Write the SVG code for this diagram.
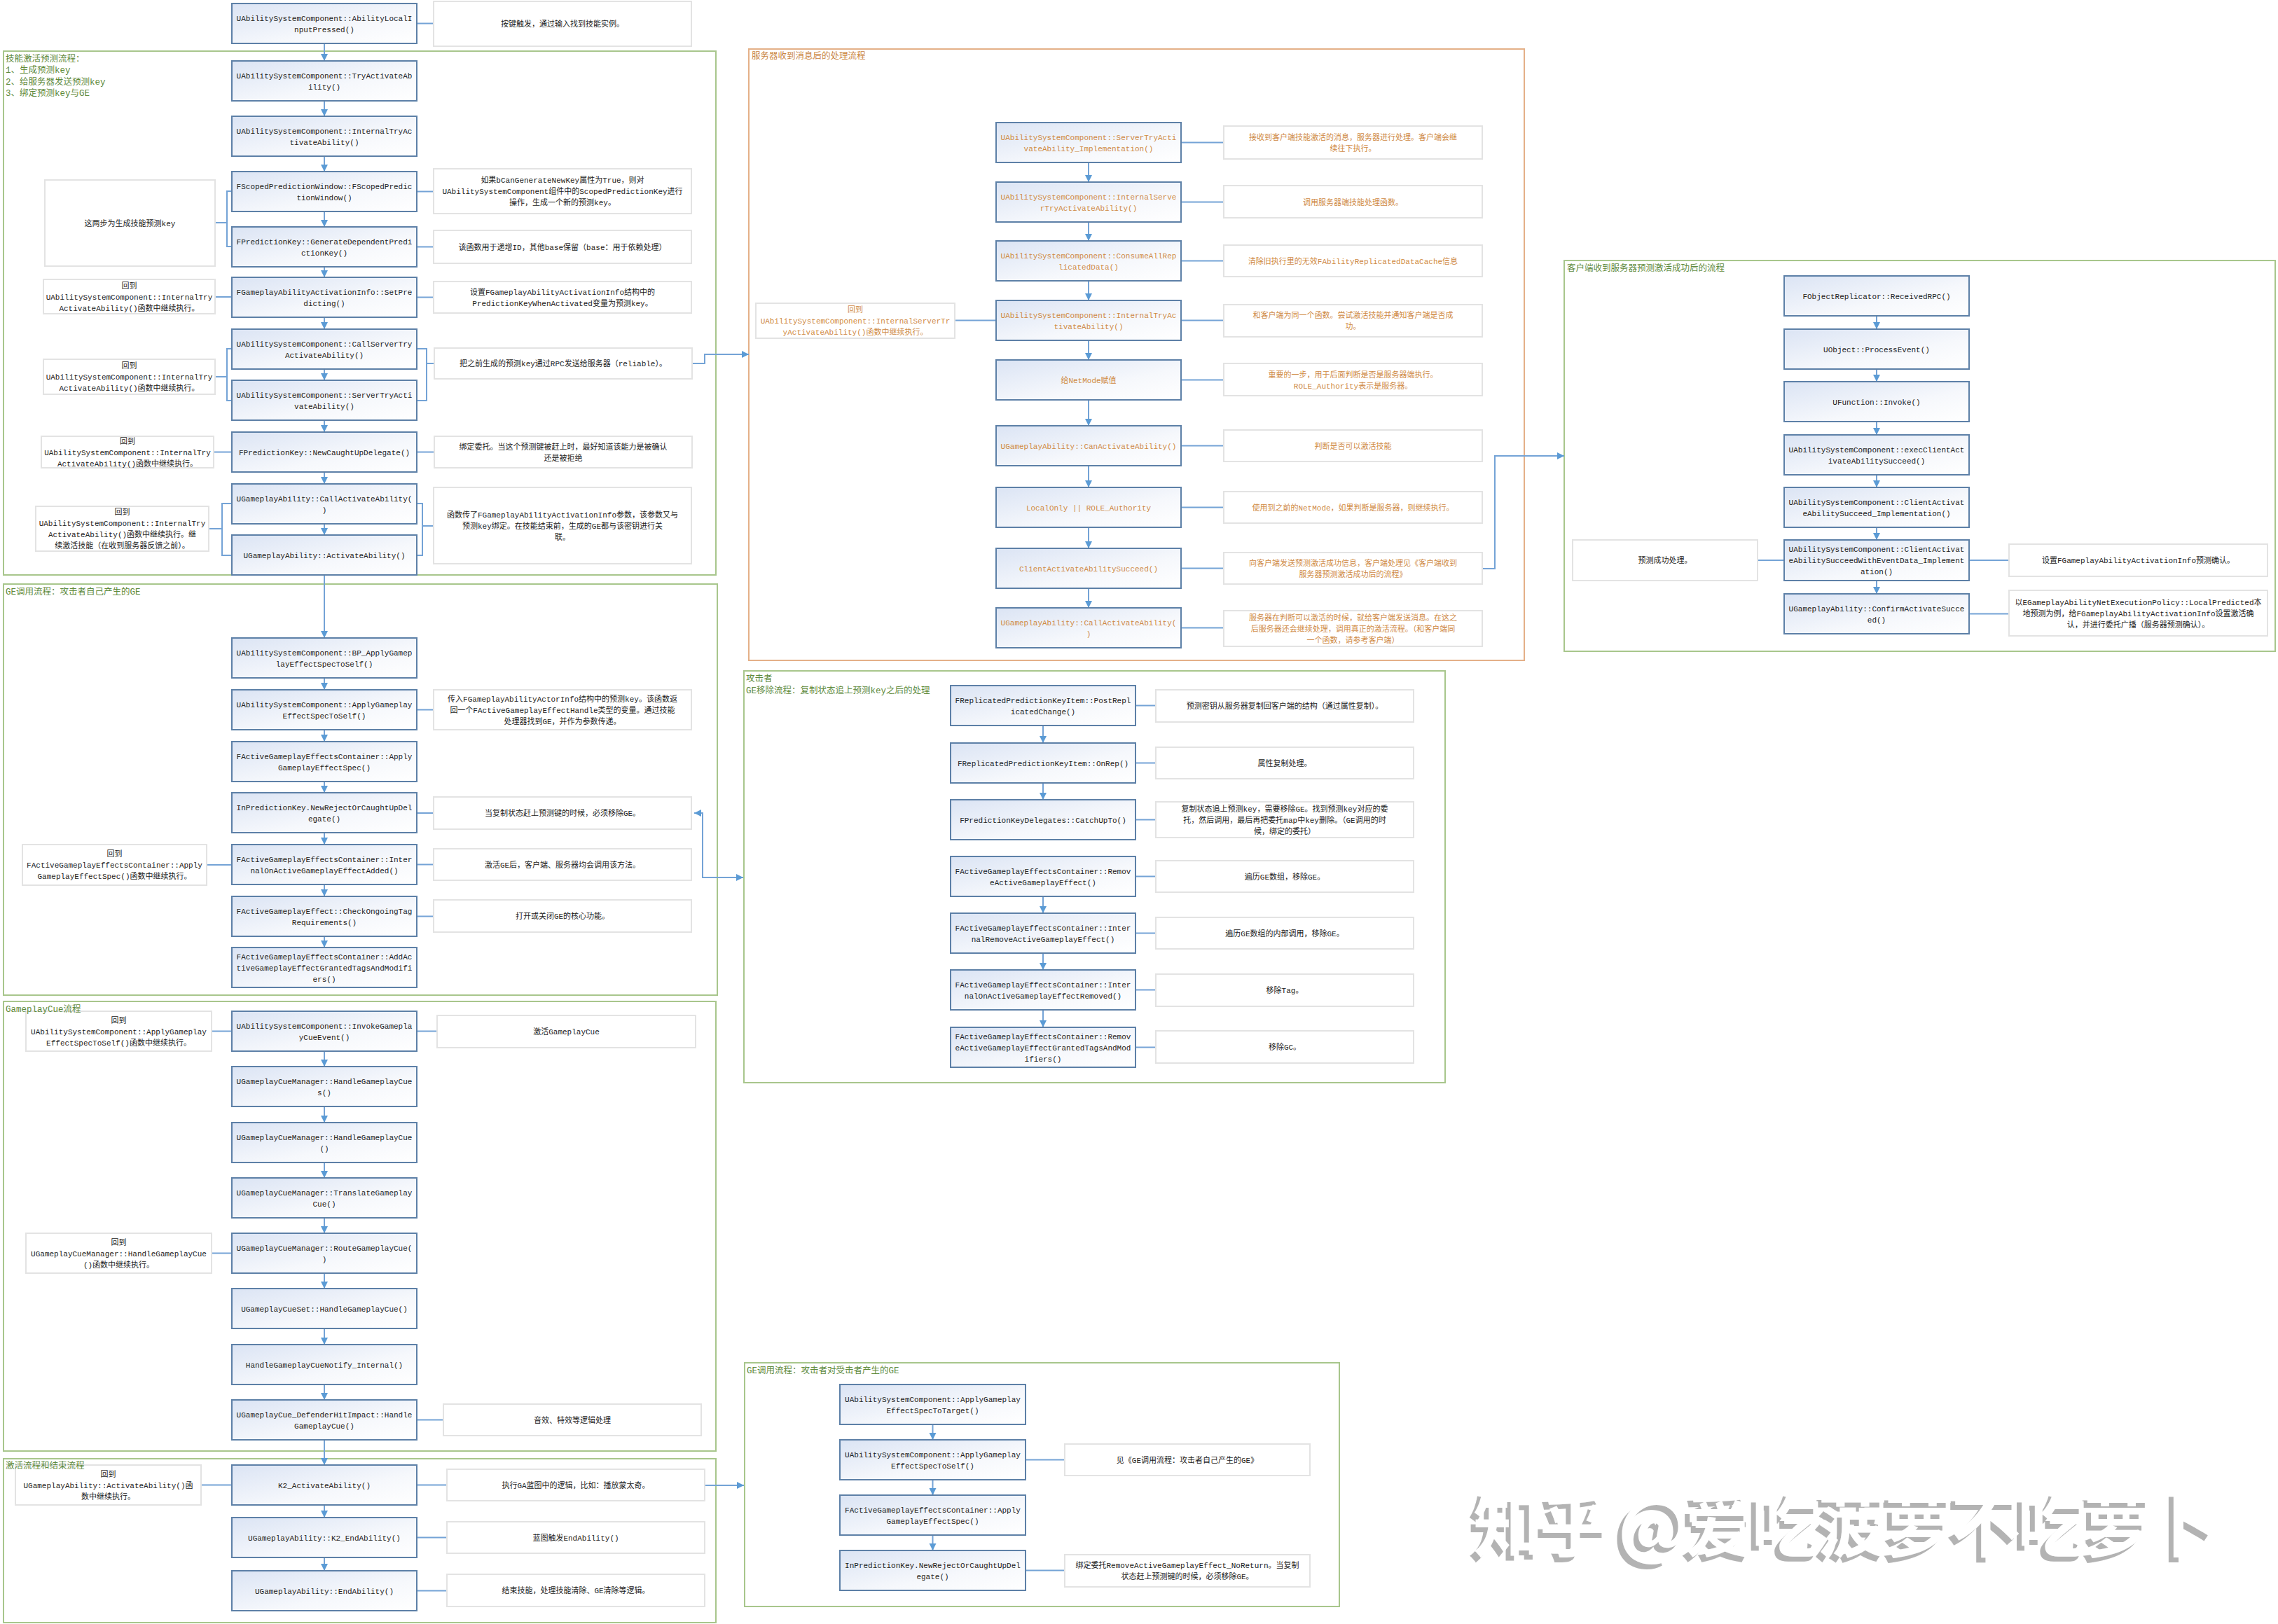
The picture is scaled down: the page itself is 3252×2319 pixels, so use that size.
<svg xmlns="http://www.w3.org/2000/svg" width="3252" height="2319" viewBox="0 0 3252 2319">
<style>
.bg{fill:#ffffff}
.sec{fill:none;stroke:#a8c68c;stroke-width:2}
.secS{fill:none;stroke:#e4b088;stroke-width:2}
.box{fill:url(#bx);stroke:#5d80a7;stroke-width:2}
.note{fill:#ffffff;stroke:#e3e3e3;stroke-width:2}
.t{font-family:"Liberation Mono","Noto Sans CJK SC",monospace;font-size:11px;fill:#222222;text-anchor:middle}
.o{fill:#cf8a45}
.ttl{font-family:"Liberation Mono","Noto Sans CJK SC",monospace;font-size:12.5px;fill:#5e8a3c}
.ttlS{fill:#c98440}
.c{fill:none;stroke:#74a3d6;stroke-width:2}
.a{marker-end:url(#ar)}
.wm{font-family:"Noto Sans CJK SC",sans-serif;font-size:100px;font-weight:bold}
</style>
<defs>
<linearGradient id="bx" x1="0" y1="0" x2="1" y2="1">
<stop offset="0" stop-color="#dbe4f4"/>
<stop offset="0.6" stop-color="#f6f8fc"/>
<stop offset="1" stop-color="#ffffff"/>
</linearGradient>
<marker id="ar" markerUnits="userSpaceOnUse" markerWidth="11" markerHeight="11" refX="10" refY="5" orient="auto-start-reverse">
<path d="M0,0 L10,5 L0,10 z" fill="#5b9bd5"/>
</marker>
<filter id="wmsh" x="-5%" y="-20%" width="110%" height="140%">
<feOffset in="SourceAlpha" dx="-7" dy="7" result="off"/>
<feFlood flood-color="#b3b3b3" result="fl"/>
<feComposite in="fl" in2="off" operator="in" result="sh"/>
<feMerge><feMergeNode in="sh"/><feMergeNode in="SourceGraphic"/></feMerge>
</filter>
</defs>
<rect class="bg" x="0" y="0" width="3252" height="2319"/>

<g id="sections">
<rect class="sec" x="5" y="73" width="1017" height="748"/>
<rect class="sec" x="5" y="834" width="1019" height="587"/>
<rect class="sec" x="5" y="1430" width="1017" height="642"/>
<rect class="sec" x="5" y="2083" width="1017" height="234"/>
<rect class="secS" x="1069" y="70" width="1107" height="873"/>
<rect class="sec" x="1062" y="958" width="1001" height="588"/>
<rect class="sec" x="1063" y="1946" width="849" height="348"/>
<rect class="sec" x="2233" y="372" width="1015" height="558"/>
</g>

<g id="connectors">
<path class="c a" d="M463,62 V87"/>
<path class="c a" d="M463,144 V166"/>
<path class="c a" d="M463,223 V245"/>
<path class="c a" d="M463,302 V324"/>
<path class="c a" d="M463,381 V396"/>
<path class="c a" d="M463,453 V470"/>
<path class="c a" d="M463,527 V543"/>
<path class="c a" d="M463,600 V617"/>
<path class="c a" d="M463,674 V691"/>
<path class="c a" d="M463,748 V764"/>
<path class="c a" d="M463,821 V911"/>
<path class="c" d="M595,33.5 H619"/>
<path class="c" d="M595,273.5 H619"/>
<path class="c" d="M595,352.5 H619"/>
<path class="c" d="M307,318 H324 M331,273 H324 V352 H331"/>
<path class="c" d="M595,424.5 H619"/>
<path class="c" d="M307,424 H331"/>
<path class="c" d="M331,498 H324 V572 H331 M307,538 H324"/>
<path class="c" d="M595,498 H609 V572 H595 M609,519 H620"/>
<path class="c a" d="M988,519 H1006 V506 H1069"/>
<path class="c" d="M305,645.5 H331"/>
<path class="c" d="M595,645.5 H620"/>
<path class="c" d="M331,719 H317 V793 H331 M298,755 H317"/>
<path class="c" d="M595,719 H603 V793 H595 M603,751 H619"/>

<path class="c a" d="M463,968 V985"/>
<path class="c a" d="M463,1042 V1059"/>
<path class="c a" d="M463,1116 V1132"/>
<path class="c a" d="M463,1189 V1206"/>
<path class="c a" d="M463,1263 V1280"/>
<path class="c a" d="M463,1337 V1353"/>
<path class="c" d="M595,1013.5 H619"/>
<path class="c" d="M595,1161 H619"/>
<path class="c" d="M595,1234.5 H619"/>
<path class="c" d="M295,1235 H331"/>
<path class="c" d="M595,1308.5 H619"/>
<path class="c a" d="M991,1161 H1003 V1253 H1061" marker-start="url(#ar)"/>

<path class="c a" d="M463,1501 V1523"/>
<path class="c a" d="M463,1580 V1603"/>
<path class="c a" d="M463,1660 V1682"/>
<path class="c a" d="M463,1739 V1761"/>
<path class="c a" d="M463,1818 V1840"/>
<path class="c a" d="M463,1897 V1920"/>
<path class="c a" d="M463,1977 V1999"/>
<path class="c a" d="M463,2056 V2092"/>
<path class="c" d="M302,1472.5 H331"/>
<path class="c" d="M595,1472.5 H624"/>
<path class="c" d="M302,1789.5 H331"/>
<path class="c" d="M595,2027.5 H633"/>

<path class="c a" d="M463,2149 V2167"/>
<path class="c a" d="M463,2224 V2243"/>
<path class="c" d="M287,2120.5 H331"/>
<path class="c" d="M595,2120.5 H638"/>
<path class="c a" d="M1006,2121 H1062"/>
<path class="c" d="M595,2195.5 H638"/>
<path class="c" d="M595,2271.5 H638"/>

<path class="c a" d="M1554,232 V260"/>
<path class="c a" d="M1554,317 V344"/>
<path class="c a" d="M1554,401 V429"/>
<path class="c a" d="M1554,486 V514"/>
<path class="c a" d="M1554,571 V608"/>
<path class="c a" d="M1554,665 V696"/>
<path class="c a" d="M1554,753 V783"/>
<path class="c a" d="M1554,840 V868"/>
<path class="c" d="M1686,203.5 H1747"/>
<path class="c" d="M1686,288.5 H1747"/>
<path class="c" d="M1686,372.5 H1747"/>
<path class="c" d="M1686,457.5 H1747"/>
<path class="c" d="M1363,457.5 H1422"/>
<path class="c" d="M1686,542.5 H1747"/>
<path class="c" d="M1686,636.5 H1747"/>
<path class="c" d="M1686,724.5 H1747"/>
<path class="c" d="M1686,811.5 H1747"/>
<path class="c" d="M1686,896.5 H1747"/>
<path class="c a" d="M2116,812 H2134 V651 H2233"/>

<path class="c a" d="M1489,1036 V1061"/>
<path class="c a" d="M1489,1118 V1142"/>
<path class="c a" d="M1489,1280 V1304"/>
<path class="c a" d="M1489,1361 V1385"/>
<path class="c a" d="M1489,1442 V1467"/>
<path class="c" d="M1621,1007.5 H1650"/>
<path class="c" d="M1621,1089.5 H1650"/>
<path class="c" d="M1621,1170.5 H1650"/>
<path class="c" d="M1621,1251.5 H1650"/>
<path class="c" d="M1621,1332.5 H1650"/>
<path class="c" d="M1621,1413.5 H1650"/>
<path class="c" d="M1621,1495.5 H1650"/>

<path class="c a" d="M1331.5,2034 V2056"/>
<path class="c a" d="M1331.5,2113 V2135"/>
<path class="c a" d="M1331.5,2192 V2214"/>
<path class="c" d="M1464,2084.5 H1520"/>
<path class="c" d="M1464,2242.5 H1520"/>

<path class="c a" d="M2679,451 V470"/>
<path class="c a" d="M2679,527 V545"/>
<path class="c a" d="M2679,602 V621"/>
<path class="c a" d="M2679,678 V696"/>
<path class="c a" d="M2679,753 V771"/>
<path class="c a" d="M2679,829 V848"/>
<path class="c" d="M2509,800 H2547"/>
<path class="c" d="M2811,800 H2868"/>
<path class="c" d="M2811,876.5 H2868"/>
</g>

<g id="n-b0"><rect class="box" x="331" y="5" width="264" height="57"/><text class="t"><tspan x="463" y="29.5">UAbilitySystemComponent::AbilityLocalI</tspan><tspan x="463" y="45.5">nputPressed()</tspan></text></g>
<g id="n-b0-note"><rect class="note" x="619" y="2" width="368" height="64"/><text class="t" x="803" y="38">按键触发，通过输入找到技能实例。</text></g>
<g id="n-b1"><rect class="box" x="331" y="87" width="264" height="57"/><text class="t"><tspan x="463" y="111.5">UAbilitySystemComponent::TryActivateAb</tspan><tspan x="463" y="127.5">ility()</tspan></text></g>
<g id="n-b2"><rect class="box" x="331" y="166" width="264" height="57"/><text class="t"><tspan x="463" y="190.5">UAbilitySystemComponent::InternalTryAc</tspan><tspan x="463" y="206.5">tivateAbility()</tspan></text></g>
<g id="n-b3"><rect class="box" x="331" y="245" width="264" height="57"/><text class="t"><tspan x="463" y="269.5">FScopedPredictionWindow::FScopedPredic</tspan><tspan x="463" y="285.5">tionWindow()</tspan></text></g>
<g id="n-b3-note"><rect class="note" x="619" y="241" width="368" height="64"/><text class="t"><tspan x="803" y="261">如果bCanGenerateNewKey属性为True，则对</tspan><tspan x="803" y="277">UAbilitySystemComponent组件中的ScopedPredictionKey进行</tspan><tspan x="803" y="293">操作，生成一个新的预测key。</tspan></text></g>
<g id="n-b4"><rect class="box" x="331" y="324" width="264" height="57"/><text class="t"><tspan x="463" y="348.5">FPredictionKey::GenerateDependentPredi</tspan><tspan x="463" y="364.5">ctionKey()</tspan></text></g>
<g id="n-b4-note"><rect class="note" x="619" y="329" width="368" height="47"/><text class="t" x="803" y="356.5">该函数用于递增ID，其他base保留（base：用于依赖处理）</text></g>
<g id="n-b34-left"><rect class="note" x="64" y="257" width="243" height="123"/><text class="t" x="185.5" y="322.5">这两步为生成技能预测key</text></g>
<g id="n-b5"><rect class="box" x="331" y="396" width="264" height="57"/><text class="t"><tspan x="463" y="420.5">FGameplayAbilityActivationInfo::SetPre</tspan><tspan x="463" y="436.5">dicting()</tspan></text></g>
<g id="n-b5-note"><rect class="note" x="619" y="402" width="368" height="45"/><text class="t"><tspan x="803" y="420.5">设置FGameplayAbilityActivationInfo结构中的</tspan><tspan x="803" y="436.5">PredictionKeyWhenActivated变量为预测key。</tspan></text></g>
<g id="n-b5-left"><rect class="note" x="62" y="399" width="245" height="49"/><text class="t"><tspan x="184.5" y="411.5">回到</tspan><tspan x="184.5" y="427.5">UAbilitySystemComponent::InternalTry</tspan><tspan x="184.5" y="443.5">ActivateAbility()函数中继续执行。</tspan></text></g>
<g id="n-b6"><rect class="box" x="331" y="470" width="264" height="57"/><text class="t"><tspan x="463" y="494.5">UAbilitySystemComponent::CallServerTry</tspan><tspan x="463" y="510.5">ActivateAbility()</tspan></text></g>
<g id="n-b7"><rect class="box" x="331" y="543" width="264" height="57"/><text class="t"><tspan x="463" y="567.5">UAbilitySystemComponent::ServerTryActi</tspan><tspan x="463" y="583.5">vateAbility()</tspan></text></g>
<g id="n-b67-left"><rect class="note" x="62" y="513" width="245" height="50"/><text class="t"><tspan x="184.5" y="526">回到</tspan><tspan x="184.5" y="542">UAbilitySystemComponent::InternalTry</tspan><tspan x="184.5" y="558">ActivateAbility()函数中继续执行。</tspan></text></g>
<g id="n-b67-note"><rect class="note" x="620" y="497" width="368" height="44"/><text class="t" x="804" y="523">把之前生成的预测key通过RPC发送给服务器（reliable）。</text></g>
<g id="n-b8"><rect class="box" x="331" y="617" width="264" height="57"/><text class="t" x="463" y="649.5">FPredictionKey::NewCaughtUpDelegate()</text></g>
<g id="n-b8-left"><rect class="note" x="59" y="623" width="246" height="45"/><text class="t"><tspan x="182" y="633.5">回到</tspan><tspan x="182" y="649.5">UAbilitySystemComponent::InternalTry</tspan><tspan x="182" y="665.5">ActivateAbility()函数中继续执行。</tspan></text></g>
<g id="n-b8-note"><rect class="note" x="620" y="623" width="368" height="45"/><text class="t"><tspan x="804" y="641.5">绑定委托。当这个预测键被赶上时，最好知道该能力是被确认</tspan><tspan x="804" y="657.5">还是被拒绝</tspan></text></g>
<g id="n-b9"><rect class="box" x="331" y="691" width="264" height="57"/><text class="t"><tspan x="463" y="715.5">UGameplayAbility::CallActivateAbility(</tspan><tspan x="463" y="731.5">)</tspan></text></g>
<g id="n-b10"><rect class="box" x="331" y="764" width="264" height="57"/><text class="t" x="463" y="796.5">UGameplayAbility::ActivateAbility()</text></g>
<g id="n-b910-left"><rect class="note" x="51" y="723" width="247" height="64"/><text class="t"><tspan x="174.5" y="735">回到</tspan><tspan x="174.5" y="751">UAbilitySystemComponent::InternalTry</tspan><tspan x="174.5" y="767">ActivateAbility()函数中继续执行。继</tspan><tspan x="174.5" y="783">续激活技能（在收到服务器反馈之前）。</tspan></text></g>
<g id="n-b910-note"><rect class="note" x="619" y="696" width="368" height="109"/><text class="t"><tspan x="803" y="738.5">函数传了FGameplayAbilityActivationInfo参数，该参数又与</tspan><tspan x="803" y="754.5">预测key绑定。在技能结束前，生成的GE都与该密钥进行关</tspan><tspan x="803" y="770.5">联。</tspan></text></g>

<g id="n-g1"><rect class="box" x="331" y="911" width="264" height="57"/><text class="t"><tspan x="463" y="935.5">UAbilitySystemComponent::BP_ApplyGamep</tspan><tspan x="463" y="951.5">layEffectSpecToSelf()</tspan></text></g>
<g id="n-g2"><rect class="box" x="331" y="985" width="264" height="57"/><text class="t"><tspan x="463" y="1009.5">UAbilitySystemComponent::ApplyGameplay</tspan><tspan x="463" y="1025.5">EffectSpecToSelf()</tspan></text></g>
<g id="n-g2-note"><rect class="note" x="619" y="985" width="368" height="57"/><text class="t"><tspan x="803" y="1001.5">传入FGameplayAbilityActorInfo结构中的预测key。该函数返</tspan><tspan x="803" y="1017.5">回一个FActiveGameplayEffectHandle类型的变量。通过技能</tspan><tspan x="803" y="1033.5">处理器找到GE，并作为参数传递。</tspan></text></g>
<g id="n-g3"><rect class="box" x="331" y="1059" width="264" height="57"/><text class="t"><tspan x="463" y="1083.5">FActiveGameplayEffectsContainer::Apply</tspan><tspan x="463" y="1099.5">GameplayEffectSpec()</tspan></text></g>
<g id="n-g4"><rect class="box" x="331" y="1132" width="264" height="57"/><text class="t"><tspan x="463" y="1156.5">InPredictionKey.NewRejectOrCaughtUpDel</tspan><tspan x="463" y="1172.5">egate()</tspan></text></g>
<g id="n-g4-note"><rect class="note" x="619" y="1138" width="368" height="46"/><text class="t" x="803" y="1165">当复制状态赶上预测键的时候，必须移除GE。</text></g>
<g id="n-g5"><rect class="box" x="331" y="1206" width="264" height="57"/><text class="t"><tspan x="463" y="1230.5">FActiveGameplayEffectsContainer::Inter</tspan><tspan x="463" y="1246.5">nalOnActiveGameplayEffectAdded()</tspan></text></g>
<g id="n-g5-note"><rect class="note" x="619" y="1212" width="368" height="45"/><text class="t" x="803" y="1238.5">激活GE后，客户端、服务器均会调用该方法。</text></g>
<g id="n-g5-left"><rect class="note" x="32" y="1206" width="263" height="58"/><text class="t"><tspan x="163.5" y="1223">回到</tspan><tspan x="163.5" y="1239">FActiveGameplayEffectsContainer::Apply</tspan><tspan x="163.5" y="1255">GameplayEffectSpec()函数中继续执行。</tspan></text></g>
<g id="n-g6"><rect class="box" x="331" y="1280" width="264" height="57"/><text class="t"><tspan x="463" y="1304.5">FActiveGameplayEffect::CheckOngoingTag</tspan><tspan x="463" y="1320.5">Requirements()</tspan></text></g>
<g id="n-g6-note"><rect class="note" x="619" y="1285" width="368" height="46"/><text class="t" x="803" y="1312">打开或关闭GE的核心功能。</text></g>
<g id="n-g7"><rect class="box" x="331" y="1353" width="264" height="57"/><text class="t"><tspan x="463" y="1369.5">FActiveGameplayEffectsContainer::AddAc</tspan><tspan x="463" y="1385.5">tiveGameplayEffectGrantedTagsAndModifi</tspan><tspan x="463" y="1401.5">ers()</tspan></text></g>

<g id="n-c1"><rect class="box" x="331" y="1444" width="264" height="57"/><text class="t"><tspan x="463" y="1468.5">UAbilitySystemComponent::InvokeGamepla</tspan><tspan x="463" y="1484.5">yCueEvent()</tspan></text></g>
<g id="n-c1-left"><rect class="note" x="37" y="1444" width="265" height="57"/><text class="t"><tspan x="169.5" y="1460.5">回到</tspan><tspan x="169.5" y="1476.5">UAbilitySystemComponent::ApplyGameplay</tspan><tspan x="169.5" y="1492.5">EffectSpecToSelf()函数中继续执行。</tspan></text></g>
<g id="n-c1-note"><rect class="note" x="624" y="1450" width="369" height="46"/><text class="t" x="808.5" y="1477">激活GameplayCue</text></g>
<g id="n-c2"><rect class="box" x="331" y="1523" width="264" height="57"/><text class="t"><tspan x="463" y="1547.5">UGameplayCueManager::HandleGameplayCue</tspan><tspan x="463" y="1563.5">s()</tspan></text></g>
<g id="n-c3"><rect class="box" x="331" y="1603" width="264" height="57"/><text class="t"><tspan x="463" y="1627.5">UGameplayCueManager::HandleGameplayCue</tspan><tspan x="463" y="1643.5">()</tspan></text></g>
<g id="n-c4"><rect class="box" x="331" y="1682" width="264" height="57"/><text class="t"><tspan x="463" y="1706.5">UGameplayCueManager::TranslateGameplay</tspan><tspan x="463" y="1722.5">Cue()</tspan></text></g>
<g id="n-c5"><rect class="box" x="331" y="1761" width="264" height="57"/><text class="t"><tspan x="463" y="1785.5">UGameplayCueManager::RouteGameplayCue(</tspan><tspan x="463" y="1801.5">)</tspan></text></g>
<g id="n-c5-left"><rect class="note" x="37" y="1761" width="265" height="57"/><text class="t"><tspan x="169.5" y="1777.5">回到</tspan><tspan x="169.5" y="1793.5">UGameplayCueManager::HandleGameplayCue</tspan><tspan x="169.5" y="1809.5">()函数中继续执行。</tspan></text></g>
<g id="n-c6"><rect class="box" x="331" y="1840" width="264" height="57"/><text class="t" x="463" y="1872.5">UGameplayCueSet::HandleGameplayCue()</text></g>
<g id="n-c7"><rect class="box" x="331" y="1920" width="264" height="57"/><text class="t" x="463" y="1952.5">HandleGameplayCueNotify_Internal()</text></g>
<g id="n-c8"><rect class="box" x="331" y="1999" width="264" height="57"/><text class="t"><tspan x="463" y="2023.5">UGameplayCue_DefenderHitImpact::Handle</tspan><tspan x="463" y="2039.5">GameplayCue()</tspan></text></g>
<g id="n-c8-note"><rect class="note" x="633" y="2005" width="368" height="45"/><text class="t" x="817" y="2031.5">音效、特效等逻辑处理</text></g>

<g id="n-k1"><rect class="box" x="331" y="2092" width="264" height="57"/><text class="t" x="463" y="2124.5">K2_ActivateAbility()</text></g>
<g id="n-k1-left"><rect class="note" x="22" y="2092" width="265" height="57"/><text class="t"><tspan x="154.5" y="2108.5">回到</tspan><tspan x="154.5" y="2124.5">UGameplayAbility::ActivateAbility()函</tspan><tspan x="154.5" y="2140.5">数中继续执行。</tspan></text></g>
<g id="n-k1-note"><rect class="note" x="638" y="2098" width="368" height="45"/><text class="t" x="822" y="2124.5">执行GA蓝图中的逻辑，比如：播放蒙太奇。</text></g>
<g id="n-k2"><rect class="box" x="331" y="2167" width="264" height="57"/><text class="t" x="463" y="2199.5">UGameplayAbility::K2_EndAbility()</text></g>
<g id="n-k2-note"><rect class="note" x="638" y="2173" width="368" height="45"/><text class="t" x="822" y="2199.5">蓝图触发EndAbility()</text></g>
<g id="n-k3"><rect class="box" x="331" y="2243" width="264" height="57"/><text class="t" x="463" y="2275.5">UGameplayAbility::EndAbility()</text></g>
<g id="n-k3-note"><rect class="note" x="638" y="2248" width="368" height="46"/><text class="t" x="822" y="2275">结束技能，处理技能清除、GE清除等逻辑。</text></g>

<g id="n-s1"><rect class="box" x="1422" y="175" width="264" height="57"/><text class="t o"><tspan x="1554" y="199.5">UAbilitySystemComponent::ServerTryActi</tspan><tspan x="1554" y="215.5">vateAbility_Implementation()</tspan></text></g>
<g id="n-s1-note"><rect class="note" x="1747" y="180" width="369" height="47"/><text class="t o"><tspan x="1931.5" y="199.5">接收到客户端技能激活的消息，服务器进行处理。客户端会继</tspan><tspan x="1931.5" y="215.5">续往下执行。</tspan></text></g>
<g id="n-s2"><rect class="box" x="1422" y="260" width="264" height="57"/><text class="t o"><tspan x="1554" y="284.5">UAbilitySystemComponent::InternalServe</tspan><tspan x="1554" y="300.5">rTryActivateAbility()</tspan></text></g>
<g id="n-s2-note"><rect class="note" x="1747" y="265" width="369" height="46"/><text class="t o" x="1931.5" y="292.5">调用服务器端技能处理函数。</text></g>
<g id="n-s3"><rect class="box" x="1422" y="344" width="264" height="57"/><text class="t o"><tspan x="1554" y="368.5">UAbilitySystemComponent::ConsumeAllRep</tspan><tspan x="1554" y="384.5">licatedData()</tspan></text></g>
<g id="n-s3-note"><rect class="note" x="1747" y="350" width="369" height="45"/><text class="t o" x="1931.5" y="376.5">清除旧执行里的无效FAbilityReplicatedDataCache信息</text></g>
<g id="n-s4"><rect class="box" x="1422" y="429" width="264" height="57"/><text class="t o"><tspan x="1554" y="453.5">UAbilitySystemComponent::InternalTryAc</tspan><tspan x="1554" y="469.5">tivateAbility()</tspan></text></g>
<g id="n-s4-note"><rect class="note" x="1747" y="435" width="369" height="46"/><text class="t o"><tspan x="1931.5" y="453.5">和客户端为同一个函数。尝试激活技能并通知客户端是否成</tspan><tspan x="1931.5" y="469.5">功。</tspan></text></g>
<g id="n-s4-left"><rect class="note" x="1079" y="433" width="284" height="50"/><text class="t o"><tspan x="1221" y="446">回到</tspan><tspan x="1221" y="462">UAbilitySystemComponent::InternalServerTr</tspan><tspan x="1221" y="478">yActivateAbility()函数中继续执行。</tspan></text></g>
<g id="n-s5"><rect class="box" x="1422" y="514" width="264" height="57"/><text class="t o" x="1554" y="546.5">给NetMode赋值</text></g>
<g id="n-s5-note"><rect class="note" x="1747" y="519" width="369" height="46"/><text class="t o"><tspan x="1931.5" y="538.5">重要的一步，用于后面判断是否是服务器端执行。</tspan><tspan x="1931.5" y="554.5">ROLE_Authority表示是服务器。</tspan></text></g>
<g id="n-s6"><rect class="box" x="1422" y="608" width="264" height="57"/><text class="t o" x="1554" y="640.5">UGameplayAbility::CanActivateAbility()</text></g>
<g id="n-s6-note"><rect class="note" x="1747" y="614" width="369" height="45"/><text class="t o" x="1931.5" y="640.5">判断是否可以激活技能</text></g>
<g id="n-s7"><rect class="box" x="1422" y="696" width="264" height="57"/><text class="t o" x="1554" y="728.5">LocalOnly || ROLE_Authority</text></g>
<g id="n-s7-note"><rect class="note" x="1747" y="702" width="369" height="45"/><text class="t o" x="1931.5" y="728.5">使用到之前的NetMode，如果判断是服务器，则继续执行。</text></g>
<g id="n-s8"><rect class="box" x="1422" y="783" width="264" height="57"/><text class="t o" x="1554" y="815.5">ClientActivateAbilitySucceed()</text></g>
<g id="n-s8-note"><rect class="note" x="1747" y="789" width="369" height="45"/><text class="t o"><tspan x="1931.5" y="807.5">向客户端发送预测激活成功信息，客户端处理见《客户端收到</tspan><tspan x="1931.5" y="823.5">服务器预测激活成功后的流程》</tspan></text></g>
<g id="n-s9"><rect class="box" x="1422" y="868" width="264" height="57"/><text class="t o"><tspan x="1554" y="892.5">UGameplayAbility::CallActivateAbility(</tspan><tspan x="1554" y="908.5">)</tspan></text></g>
<g id="n-s9-note"><rect class="note" x="1747" y="872" width="369" height="51"/><text class="t o"><tspan x="1931.5" y="885.5">服务器在判断可以激活的时候，就给客户端发送消息。在这之</tspan><tspan x="1931.5" y="901.5">后服务器还会继续处理，调用真正的激活流程。（和客户端同</tspan><tspan x="1931.5" y="917.5">一个函数，请参考客户端）</tspan></text></g>

<g id="n-a1"><rect class="box" x="1357" y="979" width="264" height="57"/><text class="t"><tspan x="1489" y="1003.5">FReplicatedPredictionKeyItem::PostRepl</tspan><tspan x="1489" y="1019.5">icatedChange()</tspan></text></g>
<g id="n-a1-note"><rect class="note" x="1650" y="985" width="368" height="46"/><text class="t" x="1834" y="1012">预测密钥从服务器复制回客户端的结构（通过属性复制）。</text></g>
<g id="n-a2"><rect class="box" x="1357" y="1061" width="264" height="57"/><text class="t" x="1489" y="1093.5">FReplicatedPredictionKeyItem::OnRep()</text></g>
<g id="n-a2-note"><rect class="note" x="1650" y="1067" width="368" height="45"/><text class="t" x="1834" y="1093.5">属性复制处理。</text></g>
<g id="n-a3"><rect class="box" x="1357" y="1142" width="264" height="57"/><text class="t" x="1489" y="1174.5">FPredictionKeyDelegates::CatchUpTo()</text></g>
<g id="n-a3-note"><rect class="note" x="1650" y="1145" width="368" height="51"/><text class="t"><tspan x="1834" y="1158.5">复制状态追上预测key，需要移除GE。找到预测key对应的委</tspan><tspan x="1834" y="1174.5">托，然后调用，最后再把委托map中key删除。（GE调用的时</tspan><tspan x="1834" y="1190.5">候，绑定的委托）</tspan></text></g>
<g id="n-a4"><rect class="box" x="1357" y="1223" width="264" height="57"/><text class="t"><tspan x="1489" y="1247.5">FActiveGameplayEffectsContainer::Remov</tspan><tspan x="1489" y="1263.5">eActiveGameplayEffect()</tspan></text></g>
<g id="n-a4-note"><rect class="note" x="1650" y="1229" width="368" height="45"/><text class="t" x="1834" y="1255.5">遍历GE数组，移除GE。</text></g>
<g id="n-a5"><rect class="box" x="1357" y="1304" width="264" height="57"/><text class="t"><tspan x="1489" y="1328.5">FActiveGameplayEffectsContainer::Inter</tspan><tspan x="1489" y="1344.5">nalRemoveActiveGameplayEffect()</tspan></text></g>
<g id="n-a5-note"><rect class="note" x="1650" y="1310" width="368" height="45"/><text class="t" x="1834" y="1336.5">遍历GE数组的内部调用，移除GE。</text></g>
<g id="n-a6"><rect class="box" x="1357" y="1385" width="264" height="57"/><text class="t"><tspan x="1489" y="1409.5">FActiveGameplayEffectsContainer::Inter</tspan><tspan x="1489" y="1425.5">nalOnActiveGameplayEffectRemoved()</tspan></text></g>
<g id="n-a6-note"><rect class="note" x="1650" y="1391" width="368" height="46"/><text class="t" x="1834" y="1418">移除Tag。</text></g>
<g id="n-a7"><rect class="box" x="1357" y="1467" width="264" height="57"/><text class="t"><tspan x="1489" y="1483.5">FActiveGameplayEffectsContainer::Remov</tspan><tspan x="1489" y="1499.5">eActiveGameplayEffectGrantedTagsAndMod</tspan><tspan x="1489" y="1515.5">ifiers()</tspan></text></g>
<g id="n-a7-note"><rect class="note" x="1650" y="1472" width="368" height="46"/><text class="t" x="1834" y="1499">移除GC。</text></g>

<g id="n-t1"><rect class="box" x="1199" y="1977" width="265" height="57"/><text class="t"><tspan x="1331.5" y="2001.5">UAbilitySystemComponent::ApplyGameplay</tspan><tspan x="1331.5" y="2017.5">EffectSpecToTarget()</tspan></text></g>
<g id="n-t2"><rect class="box" x="1199" y="2056" width="265" height="57"/><text class="t"><tspan x="1331.5" y="2080.5">UAbilitySystemComponent::ApplyGameplay</tspan><tspan x="1331.5" y="2096.5">EffectSpecToSelf()</tspan></text></g>
<g id="n-t2-note"><rect class="note" x="1520" y="2062" width="350" height="45"/><text class="t" x="1695" y="2088.5">见《GE调用流程：攻击者自己产生的GE》</text></g>
<g id="n-t3"><rect class="box" x="1199" y="2135" width="265" height="57"/><text class="t"><tspan x="1331.5" y="2159.5">FActiveGameplayEffectsContainer::Apply</tspan><tspan x="1331.5" y="2175.5">GameplayEffectSpec()</tspan></text></g>
<g id="n-t4"><rect class="box" x="1199" y="2214" width="265" height="57"/><text class="t"><tspan x="1331.5" y="2238.5">InPredictionKey.NewRejectOrCaughtUpDel</tspan><tspan x="1331.5" y="2254.5">egate()</tspan></text></g>
<g id="n-t4-note"><rect class="note" x="1520" y="2220" width="350" height="46"/><text class="t"><tspan x="1695" y="2239">绑定委托RemoveActiveGameplayEffect_NoReturn。当复制</tspan><tspan x="1695" y="2255">状态赶上预测键的时候，必须移除GE。</tspan></text></g>

<g id="n-r1"><rect class="box" x="2547" y="394" width="264" height="57"/><text class="t" x="2679" y="426.5">FObjectReplicator::ReceivedRPC()</text></g>
<g id="n-r2"><rect class="box" x="2547" y="470" width="264" height="57"/><text class="t" x="2679" y="502.5">UObject::ProcessEvent()</text></g>
<g id="n-r3"><rect class="box" x="2547" y="545" width="264" height="57"/><text class="t" x="2679" y="577.5">UFunction::Invoke()</text></g>
<g id="n-r4"><rect class="box" x="2547" y="621" width="264" height="57"/><text class="t"><tspan x="2679" y="645.5">UAbilitySystemComponent::execClientAct</tspan><tspan x="2679" y="661.5">ivateAbilitySucceed()</tspan></text></g>
<g id="n-r5"><rect class="box" x="2547" y="696" width="264" height="57"/><text class="t"><tspan x="2679" y="720.5">UAbilitySystemComponent::ClientActivat</tspan><tspan x="2679" y="736.5">eAbilitySucceed_Implementation()</tspan></text></g>
<g id="n-r6"><rect class="box" x="2547" y="771" width="264" height="58"/><text class="t"><tspan x="2679" y="788">UAbilitySystemComponent::ClientActivat</tspan><tspan x="2679" y="804">eAbilitySucceedWithEventData_Implement</tspan><tspan x="2679" y="820">ation()</tspan></text></g>
<g id="n-r6-left"><rect class="note" x="2245" y="771" width="264" height="58"/><text class="t" x="2377" y="804">预测成功处理。</text></g>
<g id="n-r6-note"><rect class="note" x="2868" y="777" width="369" height="46"/><text class="t" x="3052.5" y="804">设置FGameplayAbilityActivationInfo预测确认。</text></g>
<g id="n-r7"><rect class="box" x="2547" y="848" width="264" height="57"/><text class="t"><tspan x="2679" y="872.5">UGameplayAbility::ConfirmActivateSucce</tspan><tspan x="2679" y="888.5">ed()</tspan></text></g>
<g id="n-r7-note"><rect class="note" x="2868" y="843" width="369" height="65"/><text class="t"><tspan x="3052.5" y="863.5">以EGameplayAbilityNetExecutionPolicy::LocalPredicted本</tspan><tspan x="3052.5" y="879.5">地预测为例，给FGameplayAbilityActivationInfo设置激活确</tspan><tspan x="3052.5" y="895.5">认，并进行委托广播（服务器预测确认）。</tspan></text></g>

<g id="titles">
<text class="ttl"><tspan x="8" y="88">技能激活预测流程：</tspan><tspan x="8" y="104">1、生成预测key</tspan><tspan x="8" y="121">2、给服务器发送预测key</tspan><tspan x="8" y="137">3、绑定预测key与GE</tspan></text>
<text class="ttl" x="8" y="849">GE调用流程：攻击者自己产生的GE</text>
<text class="ttl" x="8" y="1445">GameplayCue流程</text>
<text class="ttl" x="8" y="2097">激活流程和结束流程</text>
<text class="ttl ttlS" x="1073" y="84">服务器收到消息后的处理流程</text>
<text class="ttl"><tspan x="1065" y="973">攻击者</tspan><tspan x="1065" y="990">GE移除流程：复制状态追上预测key之后的处理</tspan></text>
<text class="ttl" x="1066" y="1961">GE调用流程：攻击者对受击者产生的GE</text>
<text class="ttl" x="2237" y="387">客户端收到服务器预测激活成功后的流程</text>
</g>

<g id="watermark">
<text class="wm" x="2103" y="2215" fill="#ffffff" filter="url(#wmsh)" textLength="1066" lengthAdjust="spacing">知乎 @爱吃菠萝不吃萝卜</text>
</g>
</svg>
